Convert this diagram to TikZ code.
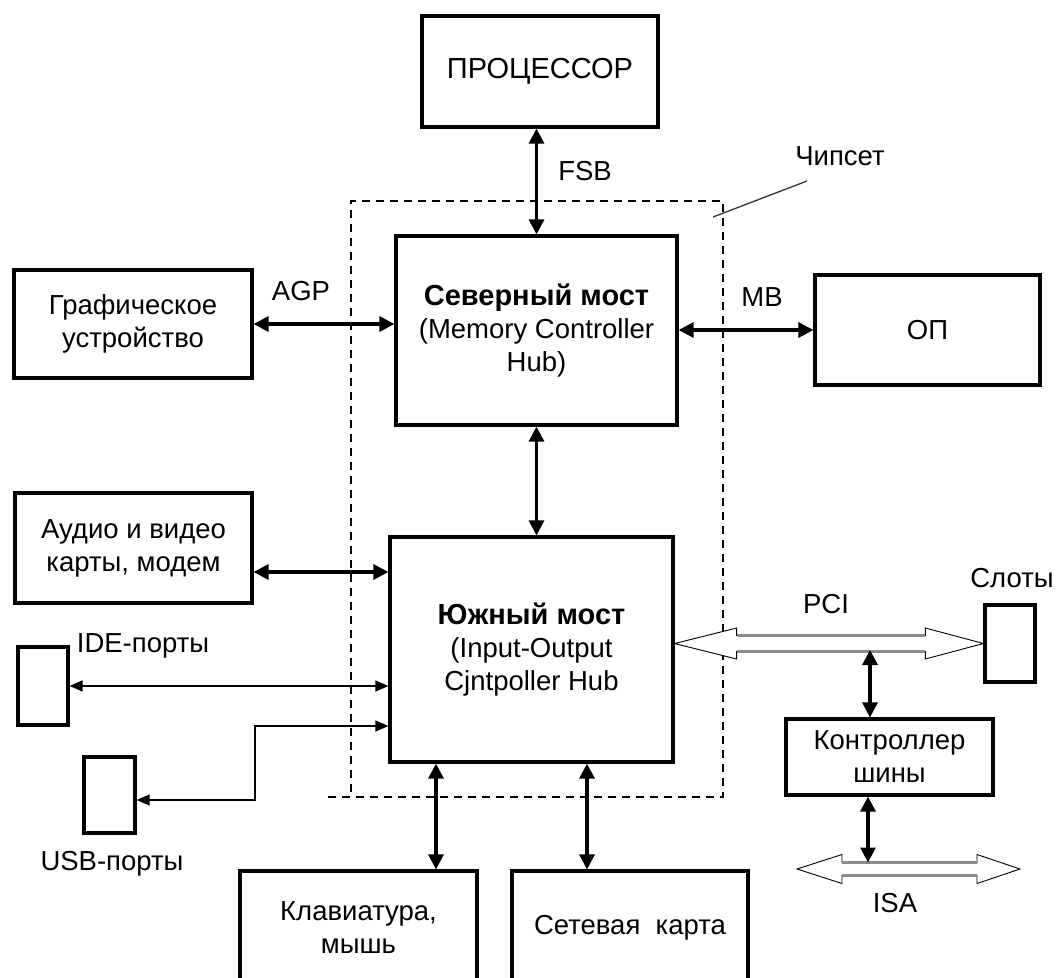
\documentclass[tikz,border=0pt]{standalone}
\usepackage{fontspec}
\setmainfont{Liberation Sans}
\usetikzlibrary{arrows.meta,calc}

\begin{document}
\begin{tikzpicture}[x=1pt,y=-1pt,
  box/.style={draw, line width=3.2pt, inner sep=0pt, align=center,
    font=\fontsize{27.5}{33}\selectfont},
  size/.style 2 args={minimum width=#1pt, minimum height=#2pt},
  bus/.style={line width=3.2pt,
    {Triangle[length=15pt,width=15pt]}-{Triangle[length=15pt,width=15pt]}},
  wire/.style={line width=1.4pt,
    {Triangle[length=13pt,width=11pt]}-{Triangle[length=13pt,width=11pt]}},
  lbl/.style={font=\fontsize{27.5}{33}\selectfont, inner sep=0pt, anchor=base},
  hollow/.style={draw=black, line width=0.9pt, fill=white, line join=miter},
  rail/.style={draw=black!45, line width=3pt},
  chip/.style={dash pattern=on 8pt off 6pt, line width=1.3pt}
]
\clip (0,0) rectangle (1056,977);

% chipset outline and its caption
\draw[chip] (328,797) -- (723,797) -- (723,201) -- (351,201) -- (351,797);
\coordinate (chipend) at (713,217);
\node[lbl] (chiplbl) at (840,165) {Чипсет};
\draw[line width=1.3pt, black!80] (chipend) -- (807,181);

% blocks
\node[box, size={236}{111}, font=\fontsize{29}{33}\selectfont] (proc) at (540,71.5) {ПРОЦЕССОР};
\node[box, size={281}{189}] (nb) at (536.5,330.5)
  {\textbf{\fontsize{29}{33}\selectfont Северный мост}\\(Memory Controller\\Hub)};
\node[box, size={238}{108}] (gfx) at (133,324) {Графическое\\устройство};
\node[box, size={225}{110}] (op) at (927.5,330) {ОП};
\node[box, size={237}{110}] (audio) at (133.5,548) {Аудио и видео\\карты, модем};
\node[box, size={283}{225}] (sb) at (531.5,649.5)
  {\textbf{\fontsize{29}{33}\selectfont Южный мост}\\(Input-Output\\Cjntpoller Hub};
\node[box, size={50}{78}] (ide) at (43,686) {};
\node[box, size={51}{76}] (usb) at (109.5,795) {};
\node[box, size={237}{114}] (kbd) at (358.5,928) {Клавиатура,\\мышь};
\node[box, size={236}{114}] (net) at (630,928) {Сетевая\ \ карта};
\node[box, size={50}{77}] (slots) at (1010,643.5) {};
\node[box, size={207}{76}] (ctrl) at (889.5,757) {Контроллер\\шины};

% bus labels
\node[lbl] (fsb) at (585,180) {FSB};
\node[lbl] (agp) at (301,300) {AGP};
\node[lbl] (mb) at (762,306) {MB};
\node[lbl] (pci) at (826,613) {PCI};
\node[lbl] (slotlbl) at (1012,587) {Слоты};
\node[lbl] (idelbl) at (143,652) {IDE-порты};
\node[lbl] (usblbl) at (112,870) {USB-порты};
\node[lbl] (isa) at (895,912) {ISA};

% point-to-point links
\draw[bus] (nb.north) -- (nb.north |- proc.south);
\draw[bus] (gfx.east) -- (gfx.east -| nb.west);
\draw[bus] (op.west) -- (op.west -| nb.east);
\draw[bus] (nb.south) -- (nb.south |- sb.north);
\coordinate (audy) at (0,572);
\draw[bus] (audio.east |- audy) -- (sb.west |- audy);
\draw[wire] (ide.east) -- (ide.east -| sb.west);
\coordinate (usbknee) at (255,726);
\coordinate (usby) at (0,800);
\draw[wire] (usb.east |- usby) -| (usbknee) -- (usbknee -| sb.west);
\coordinate (kx) at (436,0);
\coordinate (nx) at (587,0);
\draw[bus] (kx |- sb.south) -- (kx |- kbd.north);
\draw[bus] (nx |- sb.south) -- (nx |- net.north);

% PCI bus: hollow double arrow from the south bridge to the slots
\coordinate (pciL) at (sb.east |- slots.west);
\coordinate (pciR) at (slots.west);
\draw[hollow] (pciL) -- ($(pciL)+(62,-15.5)$) -- ($(pciL)+(62,-8)$)
  -- ($(pciR)+(-58,-8)$) -- ($(pciR)+(-58,-15.5)$) -- (pciR)
  -- ($(pciR)+(-58,15.5)$) -- ($(pciR)+(-58,8)$) -- ($(pciL)+(62,8)$)
  -- ($(pciL)+(62,15.5)$) -- cycle;
\draw[rail] ($(pciL)+(62,-8)$) -- ($(pciR)+(-58,-8)$);
\draw[rail] ($(pciL)+(62,8)$) -- ($(pciR)+(-58,8)$);

% ISA bus
\coordinate (isaL) at (797,869);
\coordinate (isaR) at (1020,869);
\draw[hollow] (isaL) -- ($(isaL)+(45,-14.5)$) -- ($(isaL)+(45,-6.5)$)
  -- ($(isaR)+(-43,-6.5)$) -- ($(isaR)+(-43,-14.5)$) -- (isaR)
  -- ($(isaR)+(-43,14.5)$) -- ($(isaR)+(-43,6.5)$) -- ($(isaL)+(45,6.5)$)
  -- ($(isaL)+(45,14.5)$) -- cycle;
\draw[rail] ($(isaL)+(45,-6.5)$) -- ($(isaR)+(-43,-6.5)$);
\draw[rail] ($(isaL)+(45,6.5)$) -- ($(isaR)+(-43,6.5)$);

% bus controller links
\coordinate (pcidrop) at (870,650);
\draw[bus] (pcidrop) -- (pcidrop |- ctrl.north);
\coordinate (isatop) at (868,862.5);
\draw[bus] (isatop |- ctrl.south) -- (isatop);
\end{tikzpicture}
\end{document}
